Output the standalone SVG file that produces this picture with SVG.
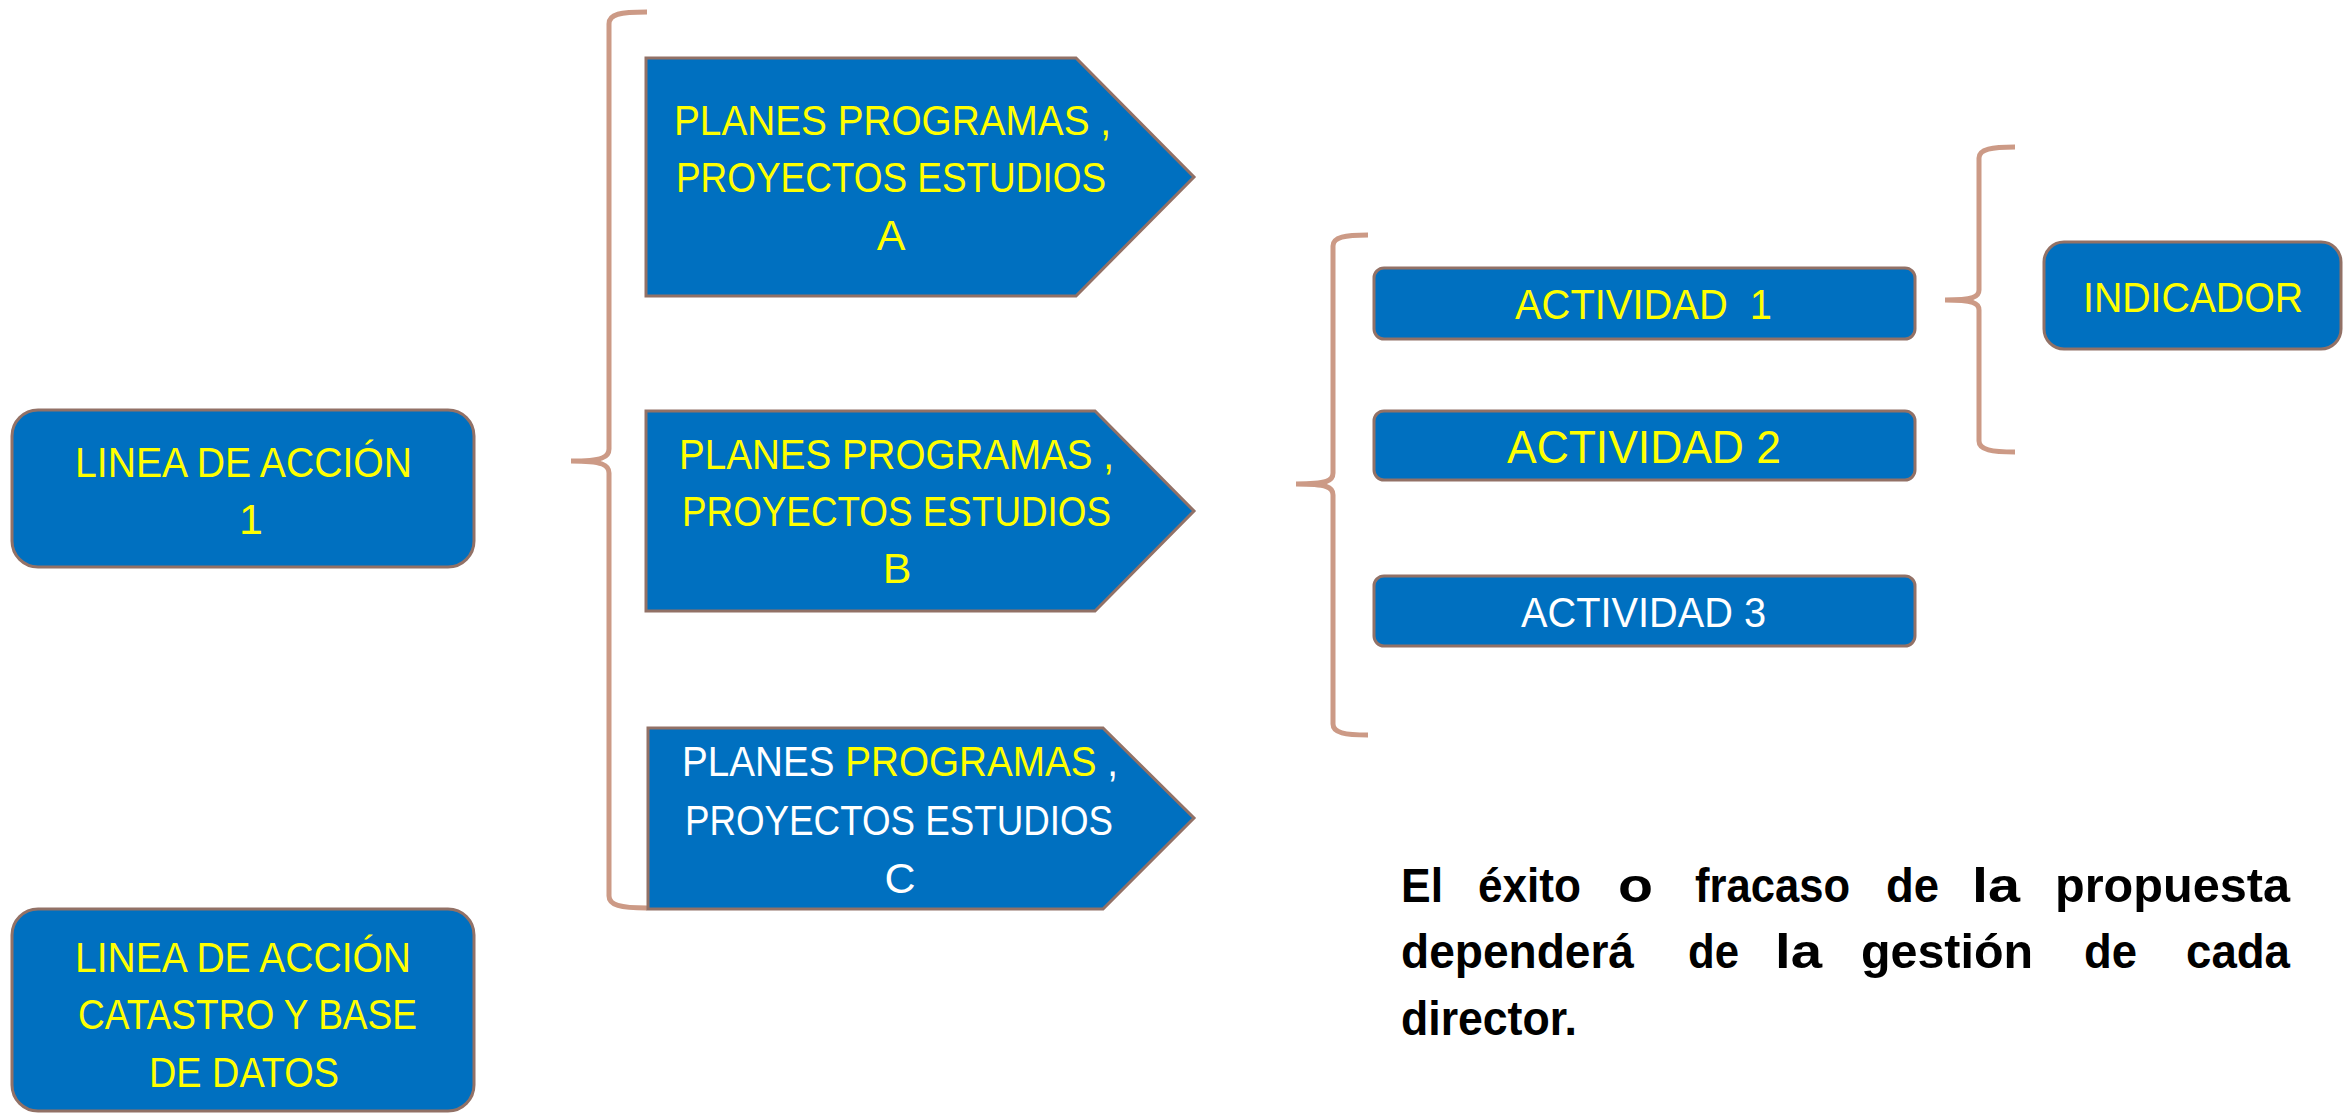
<svg xmlns="http://www.w3.org/2000/svg" width="2351" height="1114" viewBox="0 0 2351 1114">
<style>
.box{fill:#0070C0;stroke:#927166;stroke-width:3}
.br{fill:none;stroke:#CC9A86;stroke-width:5}
.t{font-family:"Liberation Sans",Arial,sans-serif;font-size:43px;fill:#FFFF00}
.w{fill:#FFFFFF}
.p{font-family:"Liberation Sans",Arial,sans-serif;font-size:48px;font-weight:bold;fill:#000000}
</style>
<rect width="2351" height="1114" fill="#FFFFFF"/>
<g id="connectors">
<path class="br" d="M647,12 C620,12 609,14 609,24 L609,449 C609,457 603,461 571,461 C603,461 609,465 609,473 L609,896 C609,905 620,908 647,908"/>
<path class="br" d="M1368,235 C1345,235 1333,237 1333,246 L1333,473 C1333,481 1327,484 1296,484 C1327,484 1333,487 1333,495 L1333,724 C1333,733 1345,735 1368,735"/>
<path class="br" d="M2015,147 C1992,147 1979,149 1979,158 L1979,290 C1979,297 1973,300 1945,300 C1973,300 1979,303 1979,310 L1979,441 C1979,450 1992,452 2015,452"/>
</g>
<g id="linea1">
<rect class="box" x="12" y="410" width="462" height="157" rx="26"/>
<text class="t" x="75" y="477" textLength="337" lengthAdjust="spacingAndGlyphs">LINEA DE ACCIÓN</text>
<text class="t" x="251" y="534" text-anchor="middle">1</text>
</g>
<g id="lineaCatastro">
<rect class="box" x="12" y="909" width="462" height="202" rx="26"/>
<text class="t" x="75" y="972" textLength="336" lengthAdjust="spacingAndGlyphs">LINEA DE ACCIÓN</text>
<text class="t" x="78" y="1029" textLength="339" lengthAdjust="spacingAndGlyphs">CATASTRO Y BASE</text>
<text class="t" x="149" y="1087" textLength="190" lengthAdjust="spacingAndGlyphs">DE DATOS</text>
</g>
<g id="planA">
<polygon class="box" points="646,58 1076,58 1194,177 1076,296 646,296"/>
<text class="t" x="674" y="135" textLength="437" lengthAdjust="spacingAndGlyphs">PLANES PROGRAMAS ,</text>
<text class="t" x="676" y="192" textLength="430" lengthAdjust="spacingAndGlyphs">PROYECTOS ESTUDIOS</text>
<text class="t" x="891" y="250" text-anchor="middle">A</text>
</g>
<g id="planB">
<polygon class="box" points="646,411 1095,411 1194,511 1095,611 646,611"/>
<text class="t" x="679" y="469" textLength="435" lengthAdjust="spacingAndGlyphs">PLANES PROGRAMAS ,</text>
<text class="t" x="682" y="526" textLength="429" lengthAdjust="spacingAndGlyphs">PROYECTOS ESTUDIOS</text>
<text class="t" x="897" y="583" text-anchor="middle">B</text>
</g>
<g id="planC">
<polygon class="box" points="648,728 1103,728 1194,818 1103,909 648,909"/>
<text class="t w" x="682" y="776" textLength="436" lengthAdjust="spacingAndGlyphs">PLANES <tspan fill="#FFFF00">PROGRAMAS</tspan> ,</text>
<text class="t w" x="685" y="835" textLength="428" lengthAdjust="spacingAndGlyphs">PROYECTOS ESTUDIOS</text>
<text class="t w" x="900" y="893" text-anchor="middle">C</text>
</g>
<g id="actividad1">
<rect class="box" x="1374" y="268" width="541" height="71" rx="10"/>
<text class="t" x="1515" y="319" textLength="257" lengthAdjust="spacingAndGlyphs" xml:space="preserve">ACTIVIDAD  1</text>
</g>
<g id="actividad2">
<rect class="box" x="1374" y="411" width="541" height="69" rx="10"/>
<text class="t" x="1507" y="463" style="font-size:47px" textLength="274" lengthAdjust="spacingAndGlyphs">ACTIVIDAD 2</text>
</g>
<g id="actividad3">
<rect class="box" x="1374" y="576" width="541" height="70" rx="10"/>
<text class="t w" x="1521" y="627" textLength="245" lengthAdjust="spacingAndGlyphs">ACTIVIDAD 3</text>
</g>
<g id="indicador">
<rect class="box" x="2044" y="242" width="297" height="107" rx="20"/>
<text class="t" x="2083" y="312" textLength="220" lengthAdjust="spacingAndGlyphs">INDICADOR</text>
</g>
<g id="nota">
<text class="p" x="1401" y="902" textLength="42" lengthAdjust="spacingAndGlyphs">El</text>
<text class="p" x="1478" y="902" textLength="103" lengthAdjust="spacingAndGlyphs">éxito</text>
<text class="p" x="1618" y="902" textLength="35" lengthAdjust="spacingAndGlyphs">o</text>
<text class="p" x="1695" y="902" textLength="155" lengthAdjust="spacingAndGlyphs">fracaso</text>
<text class="p" x="1886" y="902" textLength="53" lengthAdjust="spacingAndGlyphs">de</text>
<text class="p" x="1972" y="902" textLength="48" lengthAdjust="spacingAndGlyphs">la</text>
<text class="p" x="2055" y="902" textLength="235" lengthAdjust="spacingAndGlyphs">propuesta</text>
<text class="p" x="1401" y="968" textLength="233" lengthAdjust="spacingAndGlyphs">dependerá</text>
<text class="p" x="1688" y="968" textLength="51" lengthAdjust="spacingAndGlyphs">de</text>
<text class="p" x="1775" y="968" textLength="47" lengthAdjust="spacingAndGlyphs">la</text>
<text class="p" x="1861" y="968" textLength="172" lengthAdjust="spacingAndGlyphs">gestión</text>
<text class="p" x="2084" y="968" textLength="53" lengthAdjust="spacingAndGlyphs">de</text>
<text class="p" x="2186" y="968" textLength="104" lengthAdjust="spacingAndGlyphs">cada</text>
<text class="p" x="1401" y="1035" textLength="176" lengthAdjust="spacingAndGlyphs">director.</text>
</g>
</svg>
